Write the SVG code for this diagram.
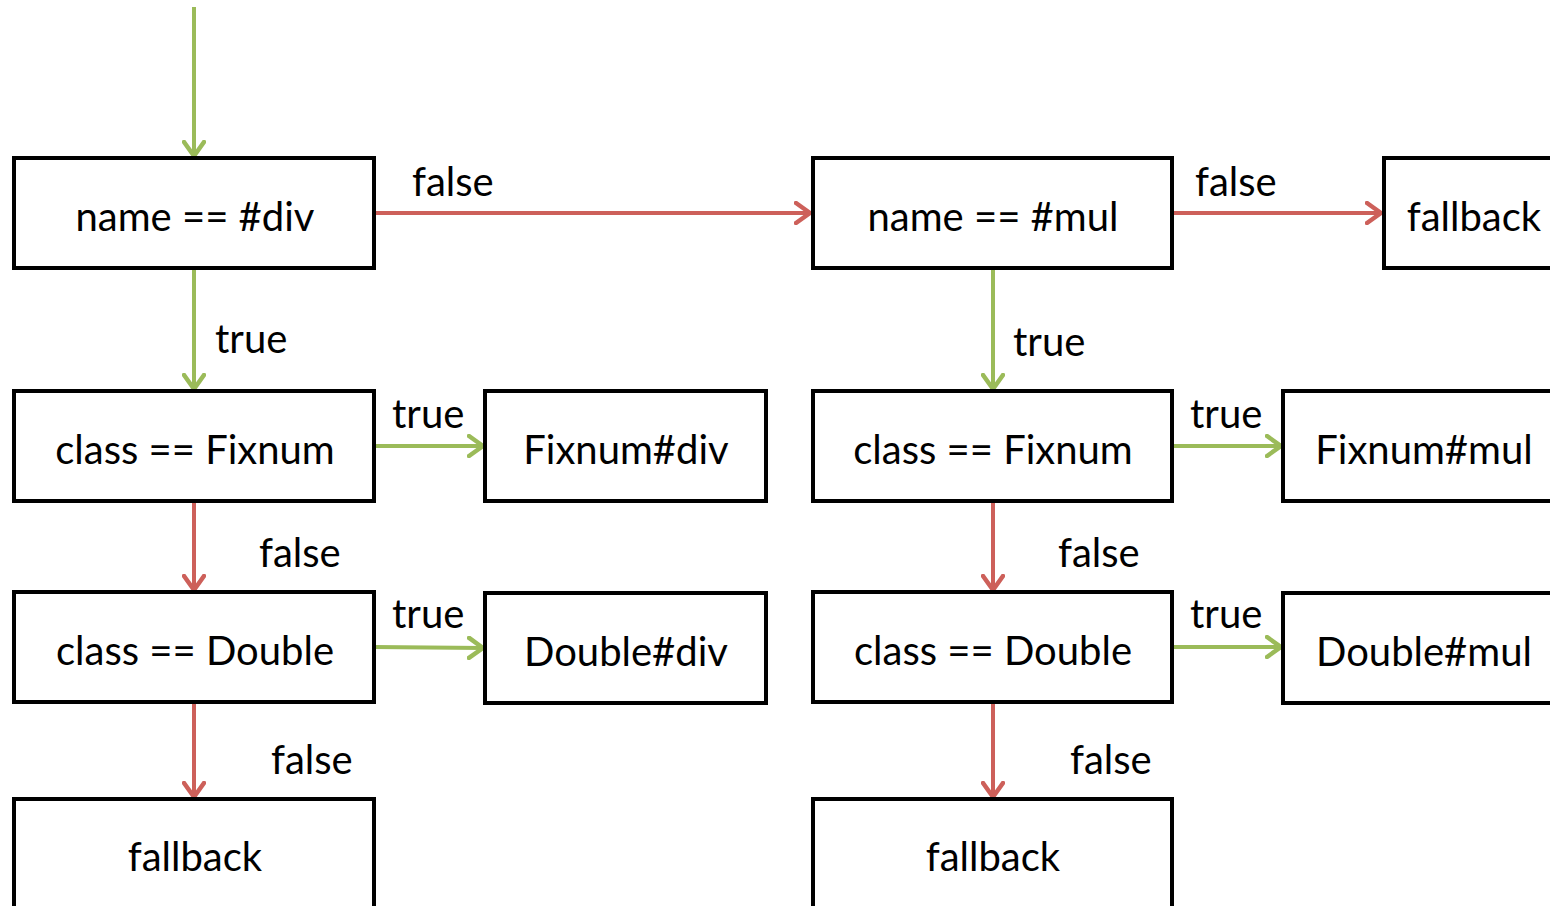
<svg xmlns="http://www.w3.org/2000/svg" width="1550" height="906" viewBox="0 0 1550 906">
  <style>
    .box rect { fill: #ffffff; stroke: #000000; stroke-width: 4; }
    .box text { font-family: Lato, "Open Sans", sans-serif; font-size: 40px; fill: #000000; text-anchor: middle; }
    .lbl { font-family: Lato, "Open Sans", sans-serif; font-size: 40px; fill: #000000; }
    .t { stroke: #9bbb59; stroke-width: 4; fill: none; }
    .f { stroke: #cd605a; stroke-width: 4; fill: none; }
  </style>
  <defs>
    <!-- open chevron arrowheads -->
    <marker id="headT" viewBox="0 0 18 24" markerWidth="18" markerHeight="24" refX="16" refY="12" orient="auto" markerUnits="userSpaceOnUse">
      <path d="M2,2 L16,12 L2,22" fill="none" stroke="#9bbb59" stroke-width="4.5" stroke-linecap="round" stroke-linejoin="round"/>
    </marker>
    <marker id="headF" viewBox="0 0 18 24" markerWidth="18" markerHeight="24" refX="16" refY="12" orient="auto" markerUnits="userSpaceOnUse">
      <path d="M2,2 L16,12 L2,22" fill="none" stroke="#cd605a" stroke-width="4.5" stroke-linecap="round" stroke-linejoin="round"/>
    </marker>
  </defs>

  <!-- connectors -->
  <g id="connectors">
    <line class="t" x1="194" y1="7" x2="194" y2="156" marker-end="url(#headT)"/>
    <line class="f" x1="374" y1="213" x2="810" y2="213" marker-end="url(#headF)"/>
    <line class="t" x1="194" y1="268" x2="194" y2="389" marker-end="url(#headT)"/>
    <line class="t" x1="374" y1="446" x2="483" y2="446" marker-end="url(#headT)"/>
    <line class="f" x1="194" y1="501" x2="194" y2="590" marker-end="url(#headF)"/>
    <line class="t" x1="374" y1="647" x2="483" y2="648" marker-end="url(#headT)"/>
    <line class="f" x1="194" y1="702" x2="194" y2="797" marker-end="url(#headF)"/>

    <line class="f" x1="1172" y1="213" x2="1381" y2="213" marker-end="url(#headF)"/>
    <line class="t" x1="993" y1="268" x2="993" y2="389" marker-end="url(#headT)"/>
    <line class="t" x1="1172" y1="446" x2="1281" y2="446" marker-end="url(#headT)"/>
    <line class="f" x1="993" y1="501" x2="993" y2="590" marker-end="url(#headF)"/>
    <line class="t" x1="1172" y1="647" x2="1281" y2="647" marker-end="url(#headT)"/>
    <line class="f" x1="993" y1="702" x2="993" y2="797" marker-end="url(#headF)"/>

    <text class="lbl" x="412" y="196">false</text>
    <text class="lbl" x="215" y="353">true</text>
    <text class="lbl" x="392" y="428">true</text>
    <text class="lbl" x="259" y="567">false</text>
    <text class="lbl" x="392" y="628">true</text>
    <text class="lbl" x="271" y="774">false</text>

    <text class="lbl" x="1195" y="196">false</text>
    <text class="lbl" x="1013" y="356">true</text>
    <text class="lbl" x="1190" y="428">true</text>
    <text class="lbl" x="1058" y="567">false</text>
    <text class="lbl" x="1190" y="628">true</text>
    <text class="lbl" x="1070" y="774">false</text>
  </g>

  <!-- div branch -->
  <g id="nameDiv" class="box"><rect x="14" y="158" width="360" height="110"/><text x="195" y="231">name == #div</text></g>
  <g id="fixnumDiv" class="box"><rect x="14" y="391" width="360" height="110"/><text x="195" y="464">class == Fixnum</text></g>
  <g id="doubleDiv" class="box"><rect x="14" y="592" width="360" height="110"/><text x="195" y="665">class == Double</text></g>
  <g id="fallbackDiv" class="box"><rect x="14" y="799" width="360" height="120"/><text x="195" y="871">fallback</text></g>
  <g id="fixnumDivImpl" class="box"><rect x="485" y="391" width="281" height="110"/><text x="626" y="464">Fixnum#div</text></g>
  <g id="doubleDivImpl" class="box"><rect x="485" y="593" width="281" height="110"/><text x="626" y="666">Double#div</text></g>

  <!-- mul branch -->
  <g id="nameMul" class="box"><rect x="813" y="158" width="359" height="110"/><text x="993" y="231">name == #mul</text></g>
  <g id="fixnumMul" class="box"><rect x="813" y="391" width="359" height="110"/><text x="993" y="464">class == Fixnum</text></g>
  <g id="doubleMul" class="box"><rect x="813" y="592" width="359" height="110"/><text x="993" y="665">class == Double</text></g>
  <g id="fallbackMul" class="box"><rect x="813" y="799" width="359" height="120"/><text x="993" y="871">fallback</text></g>
  <g id="fallbackEnd" class="box"><rect x="1384" y="158" width="180" height="110"/><text x="1474" y="231">fallback</text></g>
  <g id="fixnumMulImpl" class="box"><rect x="1283" y="391" width="281" height="110"/><text x="1424" y="464">Fixnum#mul</text></g>
  <g id="doubleMulImpl" class="box"><rect x="1283" y="593" width="281" height="110"/><text x="1424" y="666">Double#mul</text></g>
</svg>
